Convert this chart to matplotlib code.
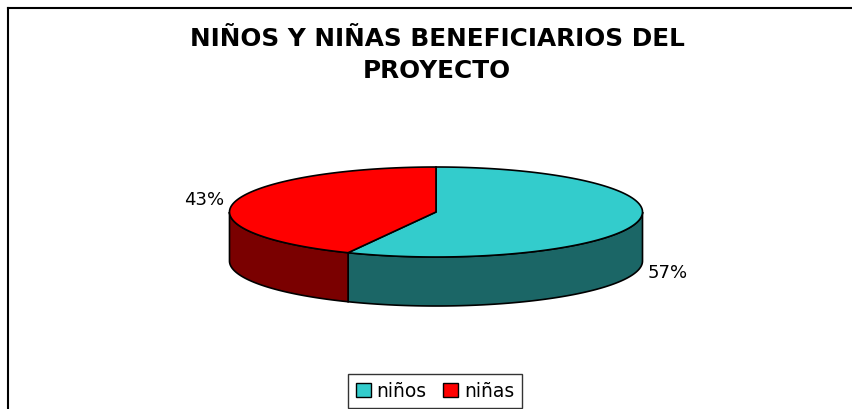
import numpy as np
import matplotlib
matplotlib.use("Agg")
import matplotlib.pyplot as plt
from matplotlib.patches import Polygon, Patch

plt.rcParams["font.family"] = ["DejaVu Sans"]

# ── data ──────────────────────────────────────────────────────────────────────
labels = ["niños", "niñas"]
values = [57, 43]
top_colors = ["#33CCCC", "#FF0000"]
side_colors = ["#1B6666", "#7A0000"]
title_lines = ["NIÑOS Y NIÑAS BENEFICIARIOS DEL", "PROYECTO"]

# ── geometry (pixel coords, y down) ──────────────────────────────────────────
W, H = 852, 410
CX, CY = 436, 213
RX, RY = 206.5, 45
DEPTH = 49

fig = plt.figure(figsize=(W / 100, H / 100), dpi=100)
ax = fig.add_axes([0, 0, 1, 1])
ax.set_xlim(0, W)
ax.set_ylim(H, 0)
ax.axis("off")


def pt(theta_deg, dy=0.0, k=1.0):
    # theta measured clockwise from 12 o'clock
    t = np.radians(theta_deg)
    return CX + k * RX * np.sin(t), CY - k * RY * np.cos(t) + dy


fracs = np.array(values, dtype=float) / sum(values)
bounds = np.concatenate([[0], np.cumsum(fracs) * 360])

# side walls (only the front half is visible: 90..270 deg)
for i in range(len(values)):
    a0, a1 = max(bounds[i], 90), min(bounds[i + 1], 270)
    if a1 <= a0:
        continue
    th = np.linspace(a0, a1, 120)
    top = [pt(t) for t in th]
    bot = [pt(t, DEPTH) for t in th[::-1]]
    ax.add_patch(Polygon(top + bot, closed=True, facecolor=side_colors[i],
                         edgecolor="black", lw=1.2, zorder=2))

# top faces
for i in range(len(values)):
    th = np.linspace(bounds[i], bounds[i + 1], 200)
    verts = [(CX, CY)] + [pt(t) for t in th]
    ax.add_patch(Polygon(verts, closed=True, facecolor=top_colors[i],
                         edgecolor="black", lw=1.2, zorder=3))

# percentage labels
for i in range(len(values)):
    mid = (bounds[i] + bounds[i + 1]) / 2
    front = np.cos(np.radians(mid)) < 0
    x, y = pt(mid, DEPTH if front else 0, k=1.15)
    ax.text(x, y - (0 if front else 2), f"{values[i]:.0f}%", fontsize=13,
            ha="center", va="center", zorder=4)

# title
ax.text(437, 46.5, title_lines[0], fontsize=17.8, fontweight="bold",
        ha="center", va="baseline")
ax.text(437, 78, title_lines[1], fontsize=17.8, fontweight="bold",
        ha="center", va="baseline")

# chart border (top and left edges visible)
ax.plot([8, W], [9, 9], color="black", lw=1.5, clip_on=False)
ax.plot([8, 8], [9, H], color="black", lw=1.5, clip_on=False)

# legend
handles = [Patch(facecolor=c, edgecolor="black", lw=1) for c in top_colors]
leg = ax.legend(handles, labels, loc="center",
                bbox_to_anchor=(435 / W, 1 - 392 / H),
                ncol=2, fontsize=13.5, frameon=True, fancybox=False,
                edgecolor="black", handlelength=0.8, handleheight=0.7,
                handletextpad=0.3, columnspacing=0.9, borderpad=0.4)
leg.get_frame().set_linewidth(1.0)

fig.savefig("out.png", dpi=100, facecolor="white")
